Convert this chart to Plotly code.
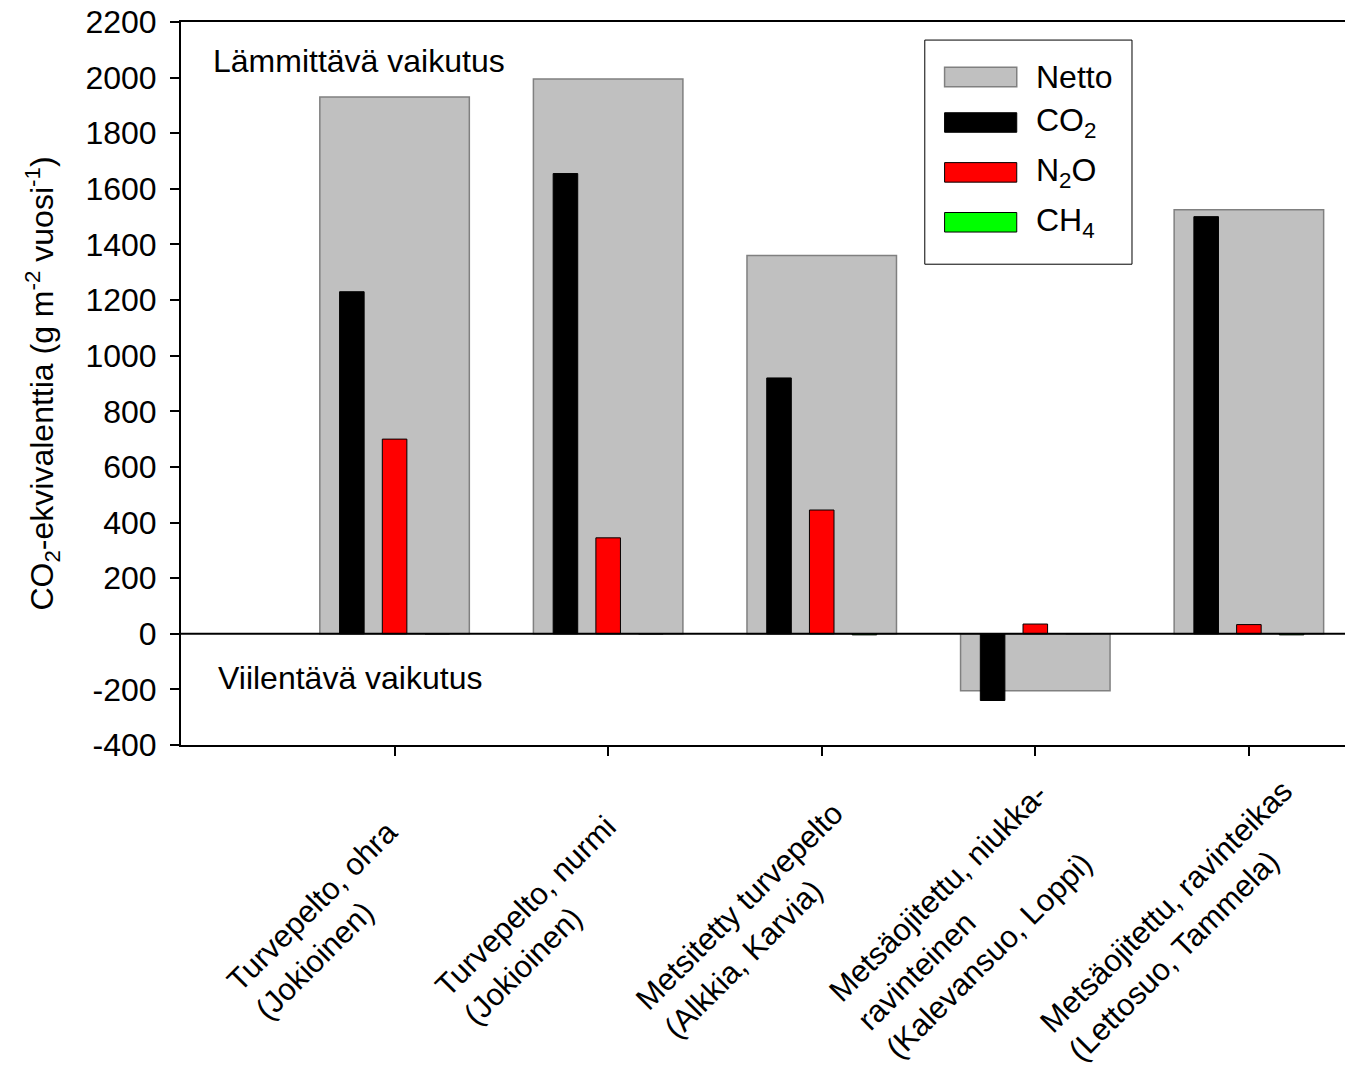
import plotly.graph_objects as go

# Sites (category labels, multi-line)
sites = [
    "Turvepelto, ohra<br>(Jokioinen)",
    "Turvepelto, nurmi<br>(Jokioinen)",
    "Metsitetty turvepelto<br>(Alkkia, Karvia)",
    "Metsäojitettu, niukka-<br>ravinteinen<br>(Kalevansuo, Loppi)",
    "Metsäojitettu, ravinteikas<br>(Lettosuo, Tammela)",
]

# CO2-equivalent fluxes, g m-2 yr-1
netto = [1930, 1995, 1360, -205, 1525]
co2 = [1230, 1655, 920, -240, 1500]
n2o = [700, 345, 445, 35, 33]
ch4 = [0, 0, -4, 1, -4]

y_ticks = list(range(-400, 2201, 200))
y_ticktext = [str(v) for v in y_ticks]  # plain hyphen for negatives

FONT = "Liberation Sans, Arial, sans-serif"
pos = list(range(1, len(sites) + 1))

series = [
    ("Netto", netto, "#c0c0c0", "#808080", 0.0, 0.70),
    ("CO<sub>2</sub>", co2, "#000000", "#000000", -0.2, 0.115),
    ("N<sub>2</sub>O", n2o, "#ff0000", "#000000", 0.0, 0.115),
    ("CH<sub>4</sub>", ch4, "#00ff00", "#000000", 0.2, 0.115),
]

fig = go.Figure()
for name, vals, fill, edge, off, w in series:
    fig.add_trace(go.Bar(
        x=[p + off for p in pos], y=vals, width=w, name=name,
        marker=dict(color=fill, line=dict(color=edge, width=1.5 if name == "Netto" else 1)),
        showlegend=False,
    ))

# zero line across the plot
fig.add_shape(type="line", xref="paper", yref="y", x0=0, x1=1, y0=0, y1=0,
              line=dict(color="black", width=2), layer="above")

# legend box drawn with wide swatches
lx0, lx1, ly0, ly1 = 0.639, 0.817, 0.665, 0.975
fig.add_shape(type="rect", xref="paper", yref="paper", x0=lx0, x1=lx1, y0=ly0, y1=ly1,
              line=dict(color="black", width=1), fillcolor="white", layer="above")
row_y = [0.924, 0.861, 0.792, 0.723]
for (name, vals, fill, edge, off, w), ry in zip(series, row_y):
    fig.add_shape(type="rect", xref="paper", yref="paper",
                  x0=0.656, x1=0.718, y0=ry - 0.0135, y1=ry + 0.0135,
                  line=dict(color=edge, width=1.5 if name == "Netto" else 1),
                  fillcolor=fill, layer="above")
    fig.add_annotation(xref="paper", yref="paper", x=0.7325, y=ry, text=name,
                       showarrow=False, xanchor="left", yanchor="middle",
                       font=dict(family=FONT, size=32, color="black"))

fig.add_annotation(xref="paper", yref="y", x=0.026, y=2060, text="Lämmittävä vaikutus",
                   showarrow=False, xanchor="left", yanchor="middle",
                   font=dict(family=FONT, size=32, color="black"))
fig.add_annotation(xref="paper", yref="y", x=0.030, y=-160, text="Viilentävä vaikutus",
                   showarrow=False, xanchor="left", yanchor="middle",
                   font=dict(family=FONT, size=32, color="black"))

# rotated category labels, lines left-aligned
for p, s in zip(pos, sites):
    fig.add_annotation(xref="x", yref="paper", x=p - 0.32, y=-0.243, text=s,
                       showarrow=False, textangle=-45, align="left",
                       xanchor="center", yanchor="middle",
                       font=dict(family=FONT, size=31, color="black"))

fig.update_layout(
    width=1345, height=1079,
    margin=dict(l=181, r=0, t=22, b=334),
    paper_bgcolor="white", plot_bgcolor="white",
    barmode="overlay",
    font=dict(family=FONT, size=32, color="black"),
    xaxis=dict(range=[0, 5.45], tickvals=pos, showticklabels=False,
               ticks="outside", ticklen=9, tickwidth=2, tickcolor="black",
               showline=True, linecolor="black", linewidth=2, mirror=True,
               showgrid=False, zeroline=False),
    yaxis=dict(range=[-400, 2200], tickvals=y_ticks, ticktext=y_ticktext,
               ticks="outside", ticklen=9, ticklabelstandoff=7,
               tickwidth=2, tickcolor="black", showline=True, linecolor="black",
               linewidth=2, showgrid=False, zeroline=False,
               tickfont=dict(family=FONT, size=32),
               title=dict(text="CO<sub>2</sub>-ekvivalenttia (g m<sup>-2</sup> vuosi<sup>-1</sup>)",
                          font=dict(family=FONT, size=32), standoff=22)),
)

fig.write_html("out.html")
